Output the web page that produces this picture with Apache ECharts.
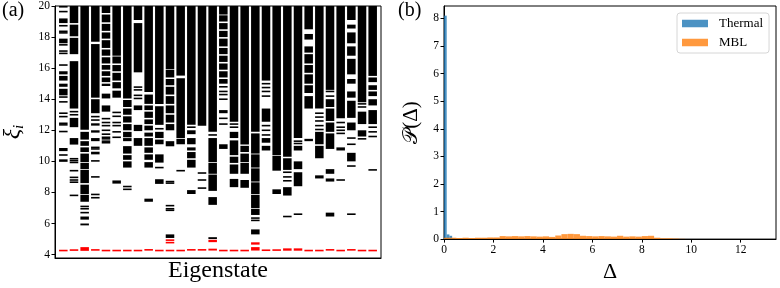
<!DOCTYPE html>
<html><head><meta charset="utf-8">
<script src="https://cdn.jsdelivr.net/npm/echarts@6/dist/echarts.min.js"></script>
<style>html,body{margin:0;padding:0;background:#fff}#c{width:780px;height:288px}</style>
</head><body><div id="c"></div>
<script>
// ---------- Panel (a): entanglement levels per eigenstate ----------
const eigenstates = [0,1,2,3,4,5,6,7,8,9,10,11,12,13,14,15,16,17,18,19,20,21,22,23,24,25,26,27,28,29];
const xiTicks = [4,6,8,10,12,14,16,18,20];
// black level bands [lo, hi] per eigenstate (single levels have lo == hi)
const blackSpans = [
  [[19.9,20],[19.64,19.64],[18.9,19.2],[18.73,18.73],[18.37,18.37],[18.27,18.27],[17.6,17.9],[17.5,17.5],[17.1,17.1],[16.95,16.95],[16.2,16.2],[15.6,15.8],[15.2,15.5],[14.8,15.0],[14.25,14.67],[14.14,14.14],[13.83,13.83],[13.1,13.1],[12.88,12.88],[12.45,12.45],[12.35,12.35],[11.92,11.92],[10.66,10.86],[10.41,10.41],[9.97,10.13]],
  [[18.9,20],[18.05,18.8],[16.9,17.95],[13.4,16.45],[13.2,13.2],[13.0,13.0],[12.2,12.8],[11.08,11.5],[10.17,10.17],[10.05,10.05],[9.93,9.93],[9.4,9.4],[8.97,8.97],[8.8,8.8],[8.66,8.66],[7.81,7.81]],
  [[12.03,20],[11.4,11.9],[11.0,11.3],[10.6,10.9],[9.95,10.5],[9.5,9.9],[8.6,9.45],[7.9,8.5],[7.4,7.85],[7.1,7.1],[6.95,6.95],[6.65,6.75],[6.25,6.45],[5.88,6.0]],
  [[17.7,20],[14.1,17.55],[13.1,14.0],[12.88,12.88],[12.66,12.66],[12.3,12.45],[11.85,12.0],[11.3,11.5],[10.9,10.9],[10.8,10.8],[10.45,10.62],[10.03,10.03],[9.0,9.0],[7.87,7.87],[7.66,7.66]],
  [[19.55,20],[18.95,19.45],[18.4,18.85],[17.9,18.3],[17.3,17.8],[16.8,17.2],[16.3,16.7],[15.9,16.2],[15.5,15.8],[15.1,15.4],[14.85,15.0],[14.05,14.36],[13.2,13.6],[12.75,12.75],[12.5,12.5],[12.3,12.3],[12.0,12.0],[11.75,11.75],[11.55,11.55],[11.45,11.45],[11.3,11.3],[11.2,11.2]],
  [[16.8,20],[16.3,16.75],[15.8,16.2],[15.2,15.7],[14.7,15.1],[14.1,14.55],[13.15,13.15],[12.9,12.9],[12.5,12.5],[12.3,12.3],[11.9,11.9],[11.55,11.55],[8.72,8.72],[8.62,8.62]],
  [[14.04,20],[13.5,13.95],[13.0,13.4],[12.5,12.9],[12.0,12.4],[11.55,11.9],[11.3,11.5],[10.5,10.98],[10.1,10.4],[9.6,10.0],[8.38,8.38],[8.2,8.2]],
  [[19.1,20],[15.73,18.9],[14.78,14.78],[14.6,14.6],[14.25,14.25],[14.05,14.05],[13.3,13.6],[11.95,12.35],[11.0,11.5]],
  [[14.46,20],[13.7,14.3],[13.3,13.6],[12.8,13.2],[12.4,12.7],[12.0,12.3],[11.6,11.85],[11.0,11.5],[10.55,10.9],[10.1,10.45],[9.6,9.95],[7.4,7.6]],
  [[13.7,20],[12.35,13.55],[12.1,12.1],[11.5,11.9],[11.1,11.4],[9.92,10.45],[9.6,9.6],[8.55,8.85]],
  [[15.94,20],[15.4,15.9],[14.9,15.3],[14.3,14.8],[13.7,14.2],[13.1,13.6],[12.5,13.0],[12.0,12.4],[10.97,11.3],[8.7,8.7],[8.6,8.6],[7.15,7.15],[6.95,6.95],[6.85,6.85],[5.07,5.3]],
  [[15.52,20],[11.5,15.35],[11.1,11.45],[9.4,9.4]],
  [[12.35,20],[12.2,12.2],[11.75,12.0],[11.1,11.5],[10.7,10.9],[10.2,10.6],[9.6,10.1],[7.9,8.15]],
  [[12.3,20],[9.25,9.25],[8.8,8.8],[8.28,8.28]],
  [[11.9,20],[11.7,11.7],[9.95,11.5],[9.2,9.9],[8.1,9.15],[7.2,7.7],[5.0,5.12]],
  [[19.45,20],[19.0,19.4],[18.5,18.9],[18.0,18.4],[17.4,17.9],[16.9,17.3],[16.4,16.8],[15.9,16.3],[15.4,15.8],[15.0,15.3],[14.8,14.8],[14.5,14.5],[14.3,14.3],[14.0,14.0],[13.1,13.3],[12.77,12.77],[12.4,12.4],[10.8,11.1]],
  [[12.55,20],[12.4,12.4],[12.2,12.2],[11.5,11.9],[10.4,11.35],[9.9,10.3],[9.2,9.8],[8.34,8.87]],
  [[11.08,20],[10.6,11.0],[9.95,10.5],[9.2,9.9],[8.3,8.8]],
  [[11.9,20],[10.5,11.8],[9.6,10.45],[8.7,9.55],[7.9,8.65],[7.0,7.85],[6.55,6.95],[6.35,6.35],[6.2,6.2],[5.3,5.62]],
  [[15.2,20],[15.0,15.0],[14.75,14.75],[14.5,14.5],[14.2,14.2],[12.55,13.4],[12.3,12.3],[12.0,12.0],[11.7,11.7],[11.2,11.5],[10.7,11.0]],
  [[10.4,20],[9.4,10.35],[7.9,8.2]],
  [[10.3,20],[9.45,10.2],[9.3,9.3],[9.0,9.0],[8.75,8.75],[7.8,8.34],[6.45,6.45]],
  [[11.5,20],[11.3,11.3],[11.15,11.15],[10.7,11.0],[9.5,10.0],[8.4,9.3],[6.6,6.6]],
  [[18.5,20],[17.84,18.2],[17.0,17.4],[16.3,16.9],[15.7,16.2],[15.0,15.6],[14.4,14.9],[13.4,14.2],[11.3,11.45]],
  [[13.4,20],[13.1,13.1],[12.85,12.85],[12.6,12.6],[12.3,12.3],[12.05,12.05],[11.1,11.9],[10.2,11.0],[8.9,9.1]],
  [[14.6,20],[14.5,14.5],[14.2,14.2],[13.5,14.0],[12.6,13.4],[11.9,12.5],[10.8,11.8],[9.2,9.5],[8.7,8.9],[6.45,6.7]],
  [[12.77,20],[12.5,12.5],[12.2,12.2],[12.0,12.0],[11.8,11.8],[10.7,10.9],[8.8,8.8]],
  [[19.1,20],[18.55,18.8],[17.6,18.3],[16.8,17.4],[15.6,16.6],[15.0,15.3],[14.1,14.5],[12.8,13.9],[12.0,12.5],[11.5,11.5],[11.1,11.1],[10.0,10.55],[9.7,9.7],[6.6,6.6]],
  [[13.8,20],[13.7,13.7],[13.5,13.5],[12.4,13.2],[11.6,12.0],[11.45,11.45]],
  [[15.5,20],[15.1,15.4],[14.6,14.9],[14.2,14.5],[13.6,14.0],[12.4,13.3],[12.2,12.2],[11.9,11.9],[11.6,11.6],[9.4,9.5]]
];
// lowest (red) levels per eigenstate
const redSpans = [
  [[4.26,4.26]],[[4.26,4.32]],[[4.24,4.48]],[[4.25,4.35]],[[4.26,4.26]],[[4.26,4.26]],
  [[4.26,4.26]],[[4.26,4.26]],[[4.26,4.35]],[[4.26,4.26]],[[4.26,4.26],[4.72,4.82],[4.93,4.93]],[[4.26,4.26]],
  [[4.26,4.35]],[[4.26,4.35]],[[4.26,4.38],[4.8,4.95]],[[4.26,4.26]],[[4.26,4.26]],[[4.26,4.26]],
  [[4.26,4.48],[4.64,4.79]],[[4.26,4.3]],[[4.26,4.32]],[[4.25,4.4]],[[4.25,4.4]],[[4.26,4.26]],
  [[4.26,4.26]],[[4.26,4.35]],[[4.26,4.26]],[[4.26,4.35]],[[4.26,4.26]],[[4.26,4.26]]
];

// ---------- Panel (b): histograms of Delta ----------
const deltaTicks = [0,2,4,6,8,10,12];
const densityTicks = [0,1,2,3,4,5,6,7,8];
const thermalEdges = [0, 0.11, 0.22, 0.33, 0.44];
const thermalDensity = [8.1, 0.17, 0.12, 0.04];
const mblEdges = [0,0.25,0.5,0.75,1.0,1.25,1.5,1.75,2.0,2.25,2.5,2.75,3.0,3.25,3.5,3.75,4.0,4.25,4.5,4.75,5.0,5.25,5.5,5.75,6.0,6.25,6.5,6.75,7.0,7.25,7.5,7.75,8.0,8.25,8.5,8.75,9.0,9.25,9.5,9.75];
const mblDensity = [0.05,0.05,0.04,0.05,0.04,0.05,0.05,0.06,0.06,0.11,0.10,0.11,0.10,0.11,0.10,0.09,0.10,0.08,0.13,0.18,0.19,0.18,0.12,0.11,0.10,0.11,0.10,0.09,0.12,0.09,0.10,0.09,0.11,0.12,0.05,0.03,0.03,0.02,0.01];

const SERIF = "Liberation Serif";

function spansToData(spans){
  const out = [];
  spans.forEach((list, k) => list.forEach(s => out.push([eigenstates[k], s[0], s[1]])));
  return out;
}
function levelRender(color){
  return function(params, api){
    const x = api.value(0), lo = api.value(1), hi = api.value(2);
    const a = api.coord([x - 0.4, hi]);
    const b = api.coord([x + 0.4, lo]);
    let y = a[1], h = b[1] - a[1];
    const minH = 1.6;
    if (h < minH) { y = (a[1] + b[1]) / 2 - minH / 2; h = minH; }
    return {type:'rect', shape:{x:a[0], y:y, width:b[0]-a[0], height:h}, style:{fill:color}};
  };
}
function histData(edges, dens){
  return dens.map((d, i) => [edges[i], edges[i+1], d]);
}
function histRender(params, api){
  const a = api.coord([api.value(0), api.value(2)]);
  const b = api.coord([api.value(1), 0]);
  return {type:'rect', shape:{x:a[0], y:a[1], width:b[0]-a[0], height:b[1]-a[1]},
          style:{fill: api.visual('color')}};
}

function tickLabel(values){
  return {customValues:values, margin:5, fontFamily:SERIF, fontSize:11.5, color:'#000',
          formatter:'{s|{value}}', rich:{s:{fontFamily:SERIF, fontSize:11.5, color:'#000'}}};
}
const axLine = {show:true, onZero:false, lineStyle:{color:'#000', width:1}};

const chart = echarts.init(document.getElementById('c'), null, {renderer:'canvas'});
chart.setOption({
  animation:false,
  backgroundColor:'#fff',
  textStyle:{fontFamily:SERIF},
  grid:[
    {left:47, top:5, width:334, height:257, show:true, borderColor:'#000', borderWidth:1, containLabel:false},
    {left:444, top:6, width:332, height:244, show:true, borderColor:'#000', borderWidth:1, containLabel:false}
  ],
  xAxis:[
    {gridIndex:0, type:'value', min:-0.78, max:29.78, axisLine:axLine, axisTick:{show:false},
     axisLabel:{show:false}, splitLine:{show:false},
     name:'Eigenstate', nameLocation:'middle', nameGap:1,
     nameTextStyle:{fontFamily:SERIF, fontSize:24, color:'#000', verticalAlign:'top', lineHeight:24}},
    {gridIndex:1, type:'value', min:0, max:13.43, axisLine:axLine,
     axisTick:{show:true, length:3.5, customValues:deltaTicks, lineStyle:{color:'#000'}},
     axisLabel:tickLabel(deltaTicks), splitLine:{show:false},
     name:'Δ', nameLocation:'middle', nameGap:15,
     nameTextStyle:{fontFamily:SERIF, fontSize:22, color:'#000', verticalAlign:'top', lineHeight:22}}
  ],
  yAxis:[
    {gridIndex:0, type:'value', min:3.78, max:20, axisLine:axLine,
     axisTick:{show:true, length:3.5, customValues:xiTicks, lineStyle:{color:'#000'}},
     axisLabel:tickLabel(xiTicks), splitLine:{show:false},
     name:'{x|ξ}{i|i}', nameLocation:'middle', nameGap:28, nameRotate:90,
     nameTextStyle:{rich:{
       x:{fontFamily:SERIF, fontSize:24, fontStyle:'italic', color:'#000', lineHeight:28, verticalAlign:'middle'},
       i:{fontFamily:SERIF, fontSize:15, fontStyle:'italic', color:'#000', lineHeight:28, verticalAlign:'bottom'}}}},
    {gridIndex:1, type:'value', min:0, max:8.45, axisLine:axLine,
     axisTick:{show:true, length:3.5, customValues:densityTicks, lineStyle:{color:'#000'}},
     axisLabel:tickLabel(densityTicks), splitLine:{show:false},
     name:'𝒫(Δ)', nameLocation:'middle', nameGap:22, nameRotate:90,
     nameTextStyle:{fontFamily:SERIF, fontSize:21, color:'#000'}}
  ],
  legend:{
    data:['Thermal','MBL'], orient:'vertical', left:677, top:13,
    icon:'rect', itemWidth:26, itemHeight:7.5, itemGap:4,
    padding:[3,6,3,5], borderColor:'#d6d6d6', borderWidth:1, borderRadius:3,
    backgroundColor:'rgba(255,255,255,0.8)',
    textStyle:{fontFamily:SERIF, fontSize:13, color:'#000', lineHeight:15, padding:[0,0,0,6]}
  },
  graphic:[
    {type:'text', left:2, top:1, style:{text:'(a)', fontFamily:SERIF, fontSize:20, fill:'#000'}},
    {type:'text', left:398, top:1, style:{text:'(b)', fontFamily:SERIF, fontSize:20, fill:'#000'}}
  ],
  series:[
    {type:'custom', name:'levels', xAxisIndex:0, yAxisIndex:0, clip:true,
     renderItem:levelRender('#000'), encode:{x:0, y:[1,2]}, data:spansToData(blackSpans)},
    {type:'custom', name:'lowest', xAxisIndex:0, yAxisIndex:0, clip:true,
     renderItem:levelRender('#ff0000'), encode:{x:0, y:[1,2]}, data:spansToData(redSpans)},
    {type:'custom', name:'Thermal', xAxisIndex:1, yAxisIndex:1, clip:true,
     itemStyle:{color:'rgba(31,119,180,0.8)'}, renderItem:histRender,
     encode:{x:[0,1], y:2}, data:histData(thermalEdges, thermalDensity)},
    {type:'custom', name:'MBL', xAxisIndex:1, yAxisIndex:1, clip:true,
     itemStyle:{color:'rgba(255,127,14,0.8)'}, renderItem:histRender,
     encode:{x:[0,1], y:2}, data:histData(mblEdges, mblDensity)}
  ]
});
</script></body></html>
